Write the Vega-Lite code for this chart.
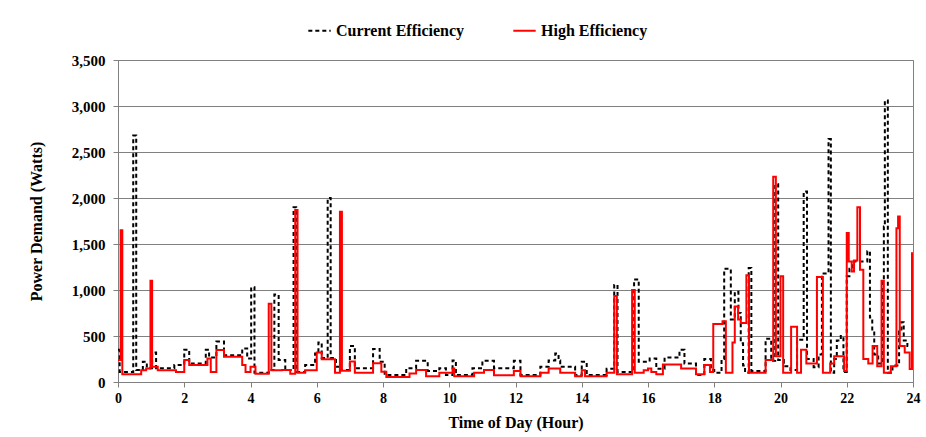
{
 "$schema": "https://vega.github.io/schema/vega-lite/v6.json",
 "width": 795,
 "height": 322,
 "autosize": "none",
 "padding": {"left": 118, "top": 60, "right": 13, "bottom": 55},
 "background": "white",
 "config": {"font": "Liberation Serif", "view": {"stroke": "#808080", "strokeWidth": 1}},
 "datasets": {
  "current": [
   [0,350],[0.05,110],[0.46,2680],[0.55,130],[0.75,220],[0.87,150],[1.03,320],[1.15,150],[1.7,185],[2.0,350],[2.15,200],[2.65,350],[2.75,265],[2.97,440],[3.2,290],[3.75,365],[3.9,255],[4.02,1030],[4.12,100],[4.55,130],[4.72,950],[4.85,240],[5.05,130],[5.3,1900],[5.38,110],[5.65,185],[5.95,310],[6.05,430],[6.15,260],[6.33,2000],[6.42,260],[6.58,165],[6.7,130],[7.0,390],[7.15,150],[7.7,360],[7.9,220],[8.05,75],[8.7,150],[9.0,230],[9.35,120],[9.7,150],[9.9,75],[10.1,235],[10.2,75],[10.7,150],[11.0,230],[11.35,150],[11.95,230],[12.15,75],[12.75,165],[13.0,235],[13.2,310],[13.3,235],[13.35,165],[13.8,75],[14.0,220],[14.15,75],[14.75,145],[14.98,1055],[15.08,110],[15.58,1115],[15.72,220],[16.05,255],[16.25,145],[16.5,265],[16.95,350],[17.1,200],[17.45,75],[17.7,250],[17.9,130],[18.0,100],[18.22,250],[18.3,1230],[18.5,680],[18.62,980],[18.73,750],[18.8,420],[18.87,180],[18.93,100],[19.04,1240],[19.12,120],[19.55,470],[19.72,230],[19.84,2150],[19.93,240],[20.1,170],[20.3,130],[20.5,460],[20.7,2070],[20.8,250],[21.0,160],[21.15,300],[21.25,1180],[21.45,2640],[21.52,100],[21.62,250],[21.7,450],[21.82,500],[21.9,110],[22.0,1150],[22.08,1230],[22.17,1310],[22.62,1420],[22.7,700],[22.77,550],[22.83,300],[22.95,200],[23.08,1110],[23.12,1690],[23.15,3060],[23.24,100],[23.38,180],[23.58,550],[23.65,650],[23.72,450],[23.83,390],[24.0,390]
  ],
  "high": [
   [0,240],[0.08,1650],[0.13,85],[0.7,128],[0.85,146],[0.98,1100],[1.03,165],[1.2,128],[1.75,110],[2.0,240],[2.15,185],[2.7,255],[2.8,110],[2.97,347],[3.2,275],[3.75,185],[3.85,110],[4.0,165],[4.15,90],[4.55,850],[4.63,128],[4.95,130],[5.2,90],[5.35,1870],[5.42,100],[5.65,128],[6.0,322],[6.15,248],[6.55,100],[6.7,1850],[6.76,122],[7.0,222],[7.15,100],[7.7,204],[7.95,111],[8.1,55],[8.8,92],[9.0,130],[9.3,63],[9.7,100],[10.1,148],[10.15,63],[10.75,100],[11.05,130],[11.35,74],[11.95,120],[12.15,62],[12.75,100],[13.0,146],[13.35,100],[13.8,62],[14.0,128],[14.1,62],[14.75,100],[14.98,935],[15.06,85],[15.52,1000],[15.6,100],[15.87,128],[16.0,146],[16.1,110],[16.25,85],[16.45,190],[17.0,146],[17.45,85],[17.7,185],[17.87,110],[17.97,630],[18.25,660],[18.35,100],[18.55,430],[18.62,820],[18.72,680],[18.8,640],[18.97,1160],[19.05,100],[19.55,240],[19.78,2230],[19.86,280],[20.0,1150],[20.08,100],[20.32,600],[20.5,100],[20.62,350],[20.78,200],[21.1,1140],[21.28,100],[21.5,200],[21.62,280],[21.92,120],[22.0,1620],[22.06,1310],[22.15,1200],[22.22,1320],[22.32,1900],[22.4,1220],[22.5,250],[22.65,200],[22.78,390],[22.92,170],[23.05,1100],[23.12,100],[23.33,170],[23.5,1670],[23.55,1800],[23.6,390],[23.75,320],[23.9,140],[23.97,1400],[24.0,1400]
  ]
 },
 "layer": [
  {
   "data": {"name": "current"},
   "transform": [
    {"calculate": "datum[0]", "as": "hour"},
    {"calculate": "datum[1]", "as": "watts"},
    {"calculate": "'Current Efficiency'", "as": "series"}
   ],
   "mark": {"type": "line", "interpolate": "step-after", "strokeWidth": 2, "clip": true},
   "encoding": {
    "x": {"field": "hour", "type": "quantitative"},
    "y": {"field": "watts", "type": "quantitative"},
    "color": {"field": "series", "type": "nominal"},
    "strokeDash": {"field": "series", "type": "nominal"}
   }
  },
  {
   "data": {"name": "high"},
   "transform": [
    {"calculate": "datum[0]", "as": "hour"},
    {"calculate": "datum[1]", "as": "watts"},
    {"calculate": "'High Efficiency'", "as": "series"}
   ],
   "mark": {"type": "line", "interpolate": "step-after", "strokeWidth": 2, "clip": true},
   "encoding": {
    "x": {"field": "hour", "type": "quantitative"},
    "y": {"field": "watts", "type": "quantitative"},
    "color": {"field": "series", "type": "nominal"},
    "strokeDash": {"field": "series", "type": "nominal"}
   }
  }
 ],
 "encoding": {
  "x": {
   "field": "hour", "type": "quantitative",
   "scale": {"domain": [0, 24], "nice": false, "zero": false},
   "axis": {"values": [0,2,4,6,8,10,12,14,16,18,20,22,24], "title": "Time of Day (Hour)", "grid": false,
    "labelFontSize": 14, "labelFontWeight": "bold", "labelColor": "black", "labelFlush": false, "labelPadding": 4,
    "titleFontSize": 16, "titleFontWeight": "bold", "titleColor": "black", "titlePadding": 9,
    "tickSize": 5, "tickColor": "#808080", "domainColor": "#808080"}
  },
  "y": {
   "field": "watts", "type": "quantitative",
   "scale": {"domain": [0, 3500], "nice": false},
   "axis": {"values": [0,500,1000,1500,2000,2500,3000,3500], "format": ",.0f", "title": "Power Demand (Watts)", "grid": true, "gridColor": "#808080", "gridWidth": 1,
    "labelFontSize": 15, "labelFontWeight": "bold", "labelColor": "black", "labelPadding": 8,
    "titleFontSize": 16, "titleFontWeight": "bold", "titleColor": "black", "titlePadding": 27,
    "tickSize": 5, "tickColor": "#808080", "domainColor": "#808080"}
  },
  "color": {
   "field": "series", "type": "nominal",
   "scale": {"domain": ["Current Efficiency", "High Efficiency"], "range": ["#000000", "#ff0000"]},
   "legend": {"title": null, "orient": "none", "legendX": 189, "legendY": -42, "direction": "horizontal",
    "symbolType": "stroke", "symbolSize": 500, "symbolStrokeWidth": 2, "labelFontSize": 16, "labelFontWeight": "bold", "labelColor": "black", "labelOffset": 4, "columnPadding": 44}
  },
  "strokeDash": {
   "field": "series", "type": "nominal",
   "scale": {"domain": ["Current Efficiency", "High Efficiency"], "range": [[4, 3], [1, 0]]},
   "legend": {"title": null, "orient": "none", "legendX": 189, "legendY": -42, "direction": "horizontal",
    "symbolType": "stroke", "symbolSize": 500, "symbolStrokeWidth": 2, "labelFontSize": 16, "labelFontWeight": "bold", "labelColor": "black", "labelOffset": 4, "columnPadding": 44}
  }
 }
}
